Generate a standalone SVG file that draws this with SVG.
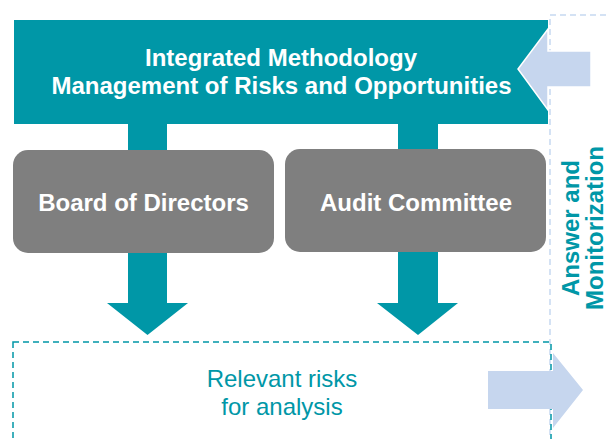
<svg xmlns="http://www.w3.org/2000/svg" width="609" height="439" viewBox="0 0 609 439">
<style>
.teal{fill:#0097a7}
.box{fill:#7f7f7f}
.lb{fill:#c6d6ee}
.wt{font-family:"Liberation Sans",Arial,sans-serif;font-weight:bold;font-size:24px;fill:#fff;text-anchor:middle}
.tt{font-family:"Liberation Sans",Arial,sans-serif;font-size:24px;fill:#0097a7;text-anchor:middle}
.vt{font-family:"Liberation Sans",Arial,sans-serif;font-weight:bold;font-size:24px;fill:#0097a7;text-anchor:middle}
</style>
<rect width="609" height="439" fill="#fff"/>
<g id="feedback-frame">
<rect x="550" y="15" width="80" height="440" fill="none" stroke="#c6d9f1" stroke-width="1.5" stroke-dasharray="6 4"/>
</g>
<g id="connectors">
<polygon class="teal" points="128,124 167,124 167,303 188,303 147.5,335 107,303 128,303"/>
<polygon class="teal" points="398,124 438,124 438,303 458,303 418,335 377,303 398,303"/>
</g>
<g id="banner">
<rect class="teal" x="14" y="20" width="534" height="104"/>
<text class="wt" x="281" y="66">Integrated Methodology</text>
<text class="wt" x="281.5" y="94">Management of Risks and Opportunities</text>
</g>
<g id="feedback-arrow">
<polygon class="lb" points="591,51 548,51 548,29 518,69 548,110 548,87 591,87" stroke="#fff" stroke-width="1.5"/>
</g>
<g id="board">
<rect class="box" x="13" y="150" width="261" height="103" rx="15"/>
<text class="wt" x="143.5" y="211">Board of Directors</text>
</g>
<g id="audit">
<rect class="box" x="285" y="149" width="261" height="103" rx="15"/>
<text class="wt" x="416" y="211">Audit Committee</text>
</g>
<g id="relevant">
<rect x="13" y="342" width="538" height="120" fill="none" stroke="#0097a7" stroke-width="1.5" stroke-dasharray="6 4"/>
<text class="tt" x="282" y="387">Relevant risks</text>
<text class="tt" x="282" y="415">for analysis</text>
</g>
<g id="output-arrow">
<polygon class="lb" points="488,371 553,371 553,353 583,390 553,428 553,409 488,409"/>
</g>
<g id="answer">
<text class="vt" transform="translate(579,228) rotate(-90)">Answer and</text>
<text class="vt" transform="translate(603,228) rotate(-90)">Monitorization</text>
</g>
</svg>
